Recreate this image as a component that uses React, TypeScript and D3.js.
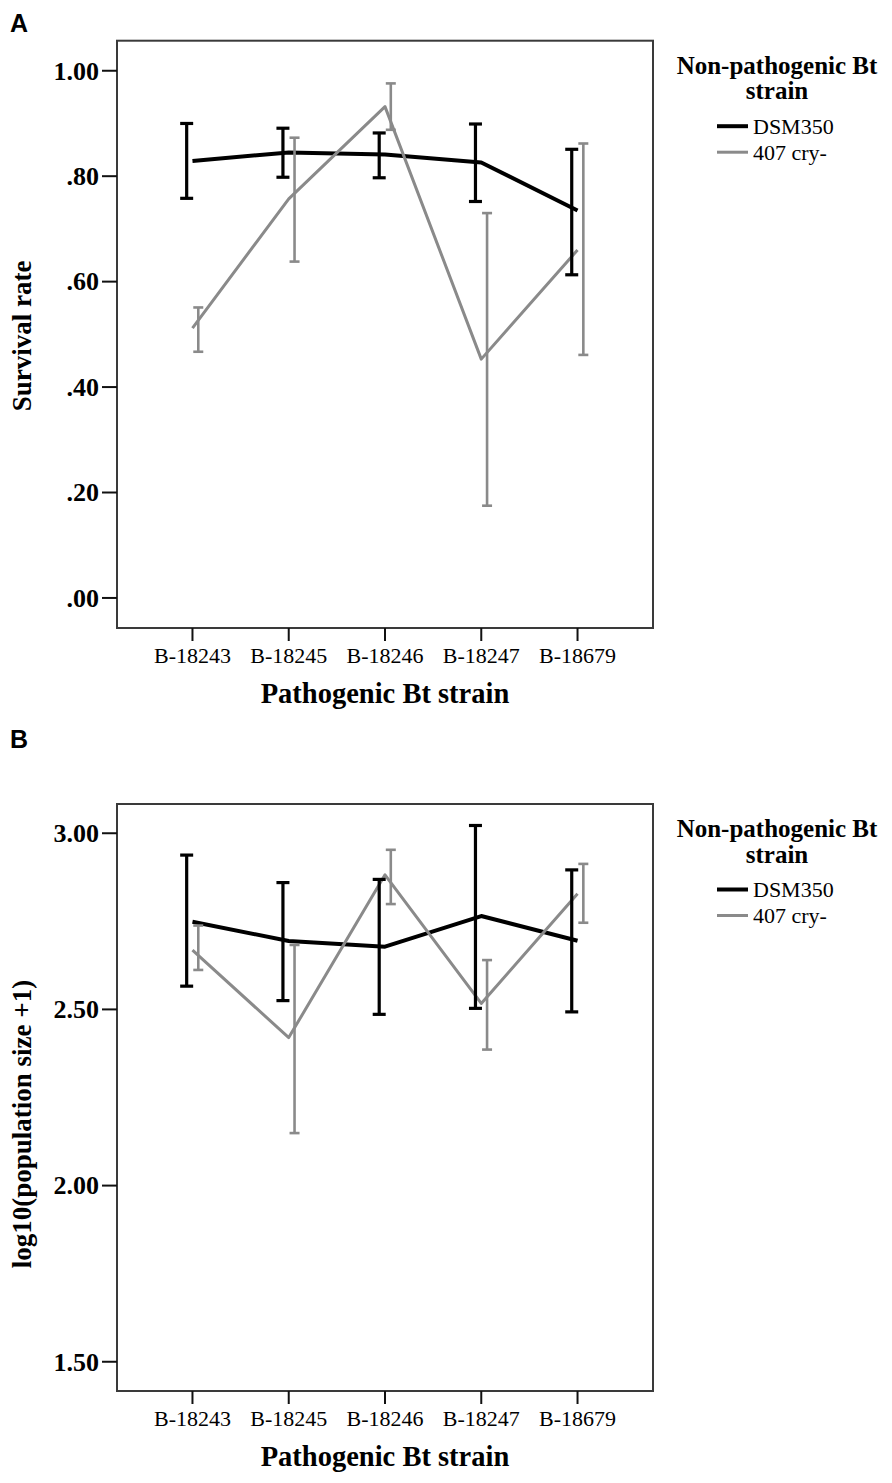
import React from "react";
import * as d3 from "d3";

// categories on the x axis (pathogenic strain)
const strains = ["B-18243", "B-18245", "B-18246", "B-18247", "B-18679"];
const groups = ["DSM350", "407 cry-"];

// panel A: survival rate, mean and error bar ends
const survivalDsm = [0.829, 0.845, 0.841, 0.826, 0.735];
const survivalDsmLow = [0.758, 0.798, 0.797, 0.752, 0.613];
const survivalDsmHigh = [0.9, 0.891, 0.882, 0.899, 0.851];
const survivalCry = [0.512, 0.757, 0.932, 0.453, 0.66];
const survivalCryLow = [0.467, 0.638, 0.888, 0.175, 0.461];
const survivalCryHigh = [0.551, 0.873, 0.976, 0.73, 0.862];
const survivalTicks = [0, 0.2, 0.4, 0.6, 0.8, 1.0];

// panel B: log10(population size + 1)
const popDsm = [2.749, 2.694, 2.678, 2.765, 2.695];
const popDsmLow = [2.566, 2.525, 2.486, 2.503, 2.493];
const popDsmHigh = [2.938, 2.86, 2.869, 3.022, 2.896];
const popCry = [2.668, 2.42, 2.882, 2.517, 2.828];
const popCryLow = [2.612, 2.149, 2.799, 2.386, 2.746];
const popCryHigh = [2.738, 2.683, 2.953, 2.64, 2.913];
const popTicks = [1.5, 2.0, 2.5, 3.0];

const SERIF = "'Liberation Serif', 'Times New Roman', serif";
const GRAY = "#8a8a8a";
const LEFT = 117;
const RIGHT = 653;

interface PanelProps {
  letter: string;
  letterY: number;
  top: number;
  bottom: number;
  domain: [number, number];
  ticks: number[];
  fmt: (v: number) => string;
  yTitle: string;
  yTitleY: number;
  dsm: number[];
  dsmLo: number[];
  dsmHi: number[];
  cry: number[];
  cryLo: number[];
  cryHi: number[];
}

function Panel(p: PanelProps) {
  const x = d3.scalePoint<string>().domain(strains).range([LEFT, RIGHT]).padding(0.784);
  const y = d3.scaleLinear().domain(p.domain).range([p.bottom, p.top]);
  const line = d3
    .line<number>()
    .x((_, i) => x(strains[i])!)
    .y((d) => y(d));

  const dodge = 5.8;
  const bars = (lo: number[], hi: number[], off: number, color: string, w: number, cap: number) =>
    strains.map((s, i) => {
      const cx = x(s)! + off;
      return (
        <g key={s} stroke={color} strokeWidth={w}>
          <line x1={cx} x2={cx} y1={y(lo[i])} y2={y(hi[i])} />
          <line x1={cx - cap / 2} x2={cx + cap / 2} y1={y(lo[i])} y2={y(lo[i])} />
          <line x1={cx - cap / 2} x2={cx + cap / 2} y1={y(hi[i])} y2={y(hi[i])} />
        </g>
      );
    });

  return (
    <g>
      <text x={10} y={p.letterY} fontFamily="'Liberation Sans', Arial, sans-serif" fontWeight="bold" fontSize={25}>
        {p.letter}
      </text>

      {/* plot frame */}
      <rect x={LEFT} y={p.top} width={RIGHT - LEFT} height={p.bottom - p.top} fill="none" stroke="#3a3a3a" strokeWidth={2} />

      {/* y axis */}
      {p.ticks.map((t) => (
        <g key={t}>
          <line x1={LEFT - 15} x2={LEFT} y1={y(t)} y2={y(t)} stroke="#111" strokeWidth={2} />
          <text x={LEFT - 18} y={y(t)} dy="0.34em" textAnchor="end" fontFamily={SERIF} fontWeight="bold" fontSize={26}>
            {p.fmt(t)}
          </text>
        </g>
      ))}
      <text
        transform={`translate(31,${p.yTitleY}) rotate(-90)`}
        textAnchor="middle"
        fontFamily={SERIF}
        fontWeight="bold"
        fontSize={27}
      >
        {p.yTitle}
      </text>

      {/* x axis */}
      {strains.map((s) => (
        <g key={s}>
          <line x1={x(s)!} x2={x(s)!} y1={p.bottom} y2={p.bottom + 13} stroke="#111" strokeWidth={2} />
          <text x={x(s)!} y={p.bottom + 35} textAnchor="middle" fontFamily={SERIF} fontSize={22}>
            {s}
          </text>
        </g>
      ))}
      <text x={(LEFT + RIGHT) / 2} y={p.bottom + 75} textAnchor="middle" fontFamily={SERIF} fontWeight="bold" fontSize={28.5}>
        Pathogenic Bt strain
      </text>

      {/* series */}
      <path d={line(p.dsm)!} fill="none" stroke="#000" strokeWidth={4} strokeLinejoin="round" />
      <path d={line(p.cry)!} fill="none" stroke={GRAY} strokeWidth={3} strokeLinejoin="round" />
      {bars(p.dsmLo, p.dsmHi, -dodge, "#000", 3.2, 13)}
      {bars(p.cryLo, p.cryHi, dodge, GRAY, 2.6, 10)}

      {/* legend */}
      <text x={777} y={p.top + 33} textAnchor="middle" fontFamily={SERIF} fontWeight="bold" fontSize={25}>
        Non-pathogenic Bt
      </text>
      <text x={777} y={p.top + 58.5} textAnchor="middle" fontFamily={SERIF} fontWeight="bold" fontSize={25}>
        strain
      </text>
      {groups.map((g, i) => (
        <g key={g}>
          <line
            x1={717}
            x2={748}
            y1={p.top + 85.5 + i * 26}
            y2={p.top + 85.5 + i * 26}
            stroke={i === 0 ? "#000" : GRAY}
            strokeWidth={i === 0 ? 4 : 3}
          />
          <text x={753} y={p.top + 93 + i * 26} fontFamily={SERIF} fontSize={22}>
            {g}
          </text>
        </g>
      ))}
    </g>
  );
}

const noLeadZero = (v: number) => d3.format(".2f")(v).replace(/^0\./, ".");

export default function App() {
  return (
    <svg
      width={892}
      height={1483}
      viewBox="0 0 892 1483"
      style={{ position: "absolute", left: 0, top: 0, background: "#fff" }}
    >
      <Panel
        letter="A"
        letterY={32}
        top={40.7}
        bottom={628}
        domain={[-0.057, 1.057]}
        ticks={survivalTicks}
        fmt={noLeadZero}
        yTitle="Survival rate"
        yTitleY={336}
        dsm={survivalDsm}
        dsmLo={survivalDsmLow}
        dsmHi={survivalDsmHigh}
        cry={survivalCry}
        cryLo={survivalCryLow}
        cryHi={survivalCryHigh}
      />
      <Panel
        letter="B"
        letterY={748}
        top={804}
        bottom={1391}
        domain={[1.417, 3.083]}
        ticks={popTicks}
        fmt={d3.format(".2f")}
        yTitle="log10(population size +1)"
        yTitleY={1124}
        dsm={popDsm}
        dsmLo={popDsmLow}
        dsmHi={popDsmHigh}
        cry={popCry}
        cryLo={popCryLow}
        cryHi={popCryHigh}
      />
    </svg>
  );
}
